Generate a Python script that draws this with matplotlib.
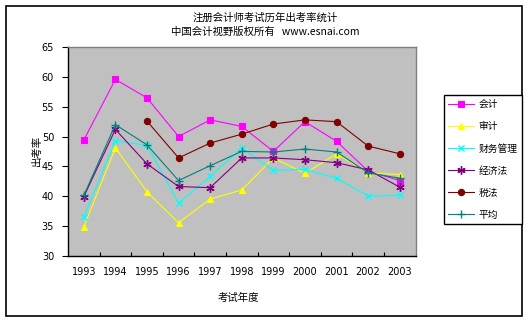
import matplotlib
matplotlib.use("Agg")
import matplotlib.pyplot as plt
from matplotlib.patches import Rectangle

plt.rcParams['font.family'] = ['Noto Sans CJK SC', 'DejaVu Sans']

years = ['1993', '1994', '1995', '1996', '1997', '1998', '1999', '2000', '2001', '2002', '2003']
kuaiji = [49.4, 59.6, 56.5, 50.0, 52.8, 51.7, 47.5, 52.5, 49.2, 44.2, 42.6]
shenji = [34.8, 48.1, 40.7, 35.5, 39.5, 41.0, 46.4, 43.8, 47.1, 43.9, 43.6]
caiwu = [36.5, 49.3, 48.5, 38.8, 43.3, 48.1, 44.3, 44.5, 43.0, 40.0, 40.1]
jingji = [39.9, 51.2, 45.4, 41.6, 41.4, 46.4, 46.4, 46.1, 45.6, 44.4, 41.5]
shuifa = [None, None, 52.6, 46.4, 48.9, 50.4, 52.1, 52.8, 52.5, 48.4, 47.1]
pingjun = [40.1, 52.0, 48.6, 42.6, 45.1, 47.5, 47.4, 47.9, 47.4, 43.9, 43.0]

series_names = ['会计', '审计', '财务管理', '经济法', '税法', '平均']
series_values = [kuaiji, shenji, caiwu, jingji, shuifa, pingjun]
colors = ['#FF00FF', '#FFFF00', '#00FFFF', '#800080', '#800000', '#008080']
markers = ['s', '^', 'x', (6, 2, 0), 'o', '+']
msizes = [5, 5, 5, 6, 4.5, 6]

yticks = [30, 35, 40, 45, 50, 55, 60, 65]

W, H = 530, 323
fig = plt.figure(figsize=(W / 100, H / 100), dpi=100)
fig.patch.set_facecolor('white')

# outer border
fig.patches.append(Rectangle((5.5 / W, 1 - 316 / H), (522 - 5.5) / W, (316 - 5.5) / H,
                             transform=fig.transFigure, fill=False, edgecolor='black', linewidth=1.2))

l, r, t, b = 68, 415.5, 47.3, 255.5
ax = fig.add_axes([l / W, 1 - b / H, (r - l) / W, (b - t) / H])
ax.set_facecolor('#C0C0C0')

x = list(range(len(years)))
handles = []
for name, vals, c, m, ms in zip(series_names, series_values, colors, markers, msizes):
    xs = [xi for xi, v in zip(x, vals) if v is not None]
    ys = [v for v in vals if v is not None]
    mew = 1.0 if m in ('x', '+') or isinstance(m, tuple) else 0.8
    h, = ax.plot(xs, ys, color=c, linewidth=0.8, marker=m, markersize=ms,
                 markerfacecolor=c, markeredgecolor=c, markeredgewidth=mew, label=name)
    handles.append(h)

ax.set_xlim(-0.5, len(years) - 0.5)
ax.set_ylim(30, 65)
ax.set_yticks(yticks)
ax.set_yticklabels([str(v) for v in yticks], fontsize=7, family='DejaVu Sans')
ax.tick_params(axis='y', direction='out', length=4, width=0.8, pad=6)

ax.set_xticks([i + 0.5 for i in range(len(years) - 1)])
ax.set_xticklabels([])
ax.set_xticks(x, minor=True)
ax.set_xticklabels(years, minor=True, fontsize=7, family='DejaVu Sans')
ax.tick_params(axis='x', which='major', direction='in', length=3, width=0.8)
ax.tick_params(axis='x', which='minor', length=0, pad=8)

for s in ['top', 'right']:
    ax.spines[s].set_color('#808080')
    ax.spines[s].set_linewidth(1.0)
for s in ['left', 'bottom']:
    ax.spines[s].set_color('black')
    ax.spines[s].set_linewidth(1.0)

fig.text(265 / W, 1 - 18 / H, '注册会计师考试历年出考率统计', ha='center', va='center', fontsize=7.5)
fig.text(265 / W, 1 - 32 / H, '中国会计视野版权所有   www.esnai.com', ha='center', va='center', fontsize=7.5)
fig.text(238 / W, 1 - 298 / H, '考试年度', ha='center', va='center', fontsize=7.5)
fig.text(37 / W, 1 - 150 / H, '出考率', ha='center', va='center', fontsize=7.5, rotation=90)

leg = fig.legend(handles=handles, labels=series_names, loc='upper left',
                 bbox_to_anchor=(444 / W, 1 - 95 / H), fontsize=7,
                 frameon=True, fancybox=False, edgecolor='black', framealpha=1,
                 handlelength=2.6, labelspacing=1.24, borderpad=0.45, handletextpad=0.5,
                 borderaxespad=0)
leg.get_frame().set_linewidth(1.0)

fig.savefig('out.png', dpi=100)
